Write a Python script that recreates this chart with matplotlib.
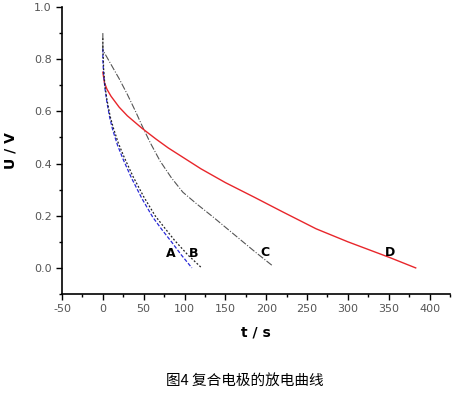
import matplotlib
matplotlib.use("Agg")
import matplotlib.pyplot as plt
from matplotlib.ticker import MultipleLocator

plt.rcParams["axes.unicode_minus"] = False

tA = [0, 0, 1, 2.5, 5, 8.5, 12, 18, 25, 35, 48, 61, 72, 84, 96, 109]
uA = [0.84, 0.80, 0.74, 0.69, 0.635, 0.575, 0.53, 0.47, 0.415, 0.345, 0.265, 0.195,
      0.148, 0.10, 0.05, 0.0]
tB = [0, 0, 1, 2.5, 5, 9, 13, 19, 26, 37, 50, 64, 76, 88, 104, 121]
uB = [0.88, 0.85, 0.76, 0.70, 0.645, 0.58, 0.535, 0.478, 0.425, 0.35, 0.273, 0.20,
      0.152, 0.105, 0.05, 0.0]
tC = [0, 0, 10, 20, 30, 40, 48, 58, 70, 84, 98, 115, 135, 160, 185, 207]
uC = [0.90, 0.835, 0.78, 0.725, 0.665, 0.60, 0.545, 0.48, 0.41, 0.345, 0.29, 0.245,
      0.195, 0.13, 0.065, 0.01]
tD = [0, 2, 5, 10, 20, 30, 48, 65, 80, 100, 120, 150, 186, 220, 261, 300, 351, 383]
uD = [0.75, 0.71, 0.685, 0.658, 0.616, 0.583, 0.535, 0.494, 0.46, 0.42, 0.38, 0.327,
      0.27, 0.215, 0.15, 0.10, 0.04, 0.0]
labels = ["A", "B", "C", "D"]
label_t = [83, 111, 199, 352]
label_u = [0.055, 0.055, 0.06, 0.06]

fig = plt.figure(figsize=(4.56, 3.93), dpi=100)
ax = fig.add_axes([62/456, 1-294/393, (450-62)/456, (294-7)/393])
ax.plot(tC, uC, color="#555555", lw=0.8, ls=(0, (6, 1.5, 1, 1.5)))
ax.plot(tD, uD, color="#e8262b", lw=1.0)
ax.plot(tA, uA, color="#2a2ad8", lw=0.9, ls=(0, (3, 1.5)))
ax.plot(tB, uB, color="#222222", lw=0.9, ls=(0, (1.5, 1.5)))
for lab, x, y in zip(labels, label_t, label_u):
    ax.text(x, y, lab, fontsize=9, fontweight="bold", ha="center", va="center")

ax.set_xlim(-50, 425)
ax.set_ylim(-0.1, 1.0)
ax.xaxis.set_major_locator(MultipleLocator(50))
ax.xaxis.set_minor_locator(MultipleLocator(25))
ax.yaxis.set_major_locator(MultipleLocator(0.2))
ax.yaxis.set_minor_locator(MultipleLocator(0.1))
ax.spines["top"].set_visible(False)
ax.spines["right"].set_visible(False)
for s in ["left", "bottom"]:
    ax.spines[s].set_linewidth(1.2)
ax.tick_params(which="major", direction="out", length=4, width=1.0, labelsize=8, labelcolor="#555555")
ax.tick_params(which="minor", direction="out", length=2.5, width=1.0)
ax.yaxis.set_major_formatter(plt.FuncFormatter(lambda v, p: f"{v:.1f}"))
ax.set_xlabel("t / s", fontsize=10, fontweight="bold", labelpad=8)
ax.set_ylabel("U / V", fontsize=10, fontweight="bold", labelpad=12)

fig.text(245/456, 1-381/393, "图4 复合电极的放电曲线", fontsize=10.5,
         family=["Noto Sans CJK SC", "DejaVu Sans"], ha="center", va="center")
fig.savefig("out.png", dpi=100)
